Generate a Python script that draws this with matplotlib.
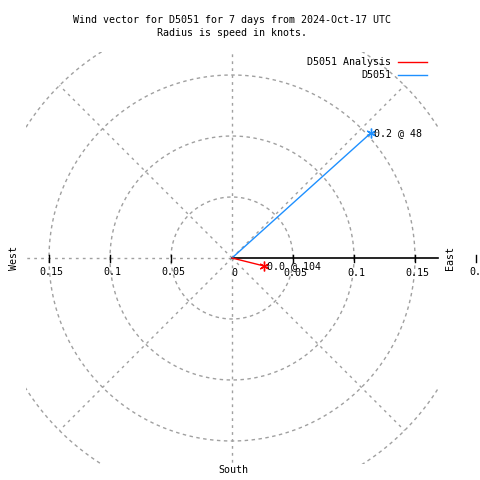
import numpy as np
import matplotlib
matplotlib.use("Agg")
import matplotlib.pyplot as plt
from matplotlib.patches import Rectangle

# data
station = "D5051"
speeds = [0.153, 0.027]          # knots
directions = [48, 104]           # degrees, compass (from north, clockwise)
series_names = ["D5051", "D5051 Analysis"]
series_colors = ["#1e90ff", "#ff0000"]
point_labels = ["0.2 @ 48", "0.0 @ 104"]
ring_radii = [0.05, 0.1, 0.15, 0.2]
tick_values = [0.05, 0.1, 0.15]

plt.rcParams['font.family'] = 'DejaVu Sans Mono'
FS = 7.2
grid_c = "#a0a0a0"

fig = plt.figure(figsize=(4.8, 4.8), dpi=100)
ax = fig.add_axes([0, 0, 1, 1])
ax.set_axis_off()

# pixel layout: center (232, 258), 0.05 kn = 61 px
scale = 61 / 0.05
cx, cy = 232, 258
ax.set_xlim(-cx / scale, (480 - cx) / scale)
ax.set_ylim(-(480 - cy) / scale, cy / scale)

box = 206 / scale
clip = Rectangle((-box, -box), 2 * box, 2 * box, transform=ax.transData)

def px(x, y):
    return x / 480, 1 - y / 480

# rings
th = np.linspace(0, 2 * np.pi, 721)
for r in ring_radii:
    ln, = ax.plot(r * np.cos(th), r * np.sin(th), color=grid_c, lw=1,
                  linestyle=(0, (2.5, 2.5)))
    ln.set_clip_path(clip)

# radial lines
rmax = ring_radii[-1]
for ang in [45, 90, 135, 225, 270, 315]:
    a = np.deg2rad(ang)
    ln, = ax.plot([0, rmax * np.cos(a)], [0, rmax * np.sin(a)], color=grid_c,
                  lw=1, linestyle=(0, (2, 3)))
    ln.set_clip_path(clip)
ln, = ax.plot([-rmax, 0], [0, 0], color=grid_c, lw=1, linestyle=(0, (2, 3)))
ln.set_clip_path(clip)

# axis along east
ax.plot([0, box], [0, 0], color="black", lw=1.2)
tk = 3.5 / scale
for t in tick_values + [0.2]:
    ax.plot([t, t], [-tk, tk], color="black", lw=1)
for t in tick_values:
    ax.plot([-t, -t], [-tk, tk], color="black", lw=1)

# tick labels
ly = -14 / scale
for t in tick_values:
    ax.text(-t + 2 / scale, ly, f"{t:g}", fontsize=FS, ha="center", va="center")
    ax.text(t + 2 / scale, ly - 1.5 / scale, f"{t:g}", fontsize=FS, ha="center",
            va="center")
ax.text(2 / scale, ly - 1 / scale, "0", fontsize=FS, ha="center", va="center")
ax.text(0.2 + 2 / scale, ly, "0.2", fontsize=FS, ha="center", va="center")

# compass labels
fig.text(*px(14, 258), "West", fontsize=FS, rotation=90, ha="center", va="center")
fig.text(*px(450, 258), "East", fontsize=FS, rotation=90, ha="center", va="center")
fig.text(*px(233, 470), "South", fontsize=FS, ha="center", va="center")

# vectors
for s, d, c, lab in zip(speeds, directions, series_colors, point_labels):
    a = np.deg2rad(90 - d)
    x, y = s * np.cos(a), s * np.sin(a)
    ax.plot([0, x], [0, y], color=c, lw=1)
    ax.plot([x], [y], color=c, marker=(6, 2, 0), markersize=7, mew=1)
    ax.text(x + 3 / scale, y, lab, fontsize=FS, ha="left", va="center")

# title
fig.text(*px(232, 20), f"Wind vector for {station} for 7 days from 2024-Oct-17 UTC",
         fontsize=FS, ha="center", va="center")
fig.text(*px(232, 33), "Radius is speed in knots.", fontsize=FS, ha="center", va="center")

# legend
for i, (name, c) in enumerate(zip(series_names[::-1], series_colors[::-1])):
    yy = 62 + 13 * i
    fig.text(*px(391, yy), name, fontsize=FS, ha="right", va="center")
    fig.add_artist(plt.Line2D([398 / 480, 427 / 480], [1 - yy / 480] * 2,
                              color=c, lw=1))

fig.savefig("out.png", dpi=100)
